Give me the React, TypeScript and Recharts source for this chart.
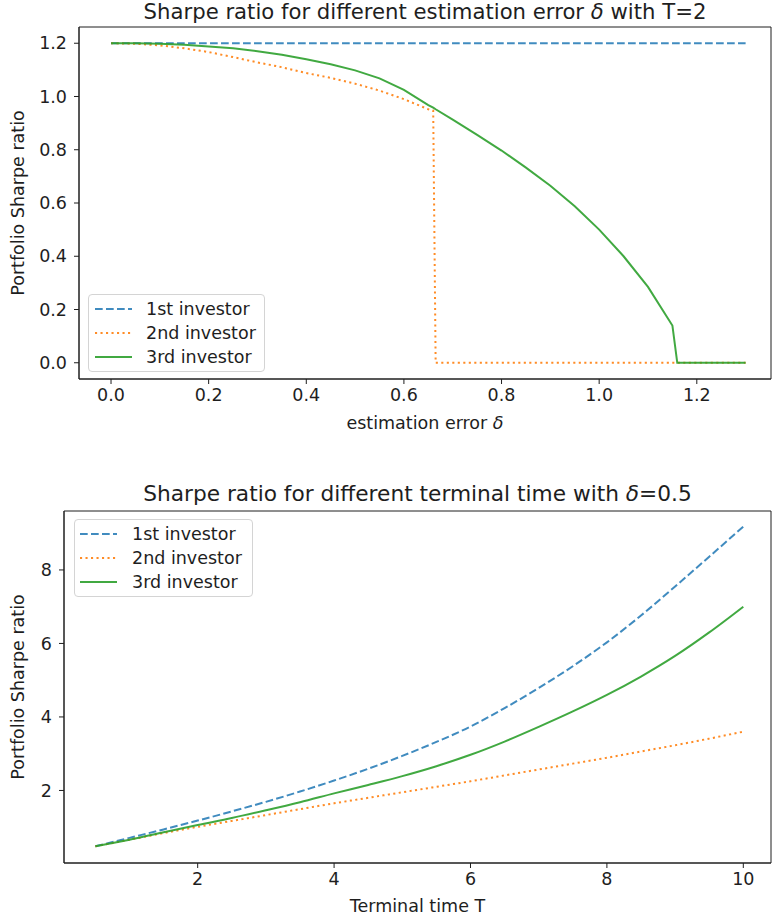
import React from 'react';
import { LineChart, Line, XAxis, YAxis, Legend, ReferenceArea } from 'recharts';

const FONT = '"DejaVu Sans", "Liberation Sans", sans-serif';
const INK = '#1e1e1e';
const FS = 17.5;

// ---------- Top chart data: Sharpe ratio vs estimation error (T=2) ----------
const deltaValues = [0, 0.05, 0.1, 0.15, 0.2, 0.25, 0.3, 0.35, 0.4, 0.45, 0.5, 0.55, 0.6, 0.65, 0.66, 0.665, 0.7, 0.75, 0.8, 0.85, 0.9, 0.95, 1.0, 1.05, 1.1, 1.15, 1.16, 1.2, 1.25, 1.3];
const deltaInvestor1 = [1.2, 1.2, 1.2, 1.2, 1.2, 1.2, 1.2, 1.2, 1.2, 1.2, 1.2, 1.2, 1.2, 1.2, 1.2, 1.2, 1.2, 1.2, 1.2, 1.2, 1.2, 1.2, 1.2, 1.2, 1.2, 1.2, 1.2, 1.2, 1.2, 1.2];
const deltaInvestor2 = [1.2, 1.198, 1.192, 1.181, 1.167, 1.148, 1.128, 1.11, 1.088, 1.07, 1.048, 1.022, 0.99, 0.952, 0.947, 0, 0, 0, 0, 0, 0, 0, 0, 0, 0, 0, 0, 0, 0, 0];
const deltaInvestor3 = [1.2, 1.2, 1.198, 1.194, 1.188, 1.181, 1.17, 1.157, 1.14, 1.121, 1.098, 1.068, 1.025, 0.968, 0.958, 0.952, 0.913, 0.856, 0.797, 0.733, 0.665, 0.588, 0.5, 0.4, 0.285, 0.14, 0, 0, 0, 0];
const deltaTicks = [0, 0.2, 0.4, 0.6, 0.8, 1.0, 1.2];
const deltaYTicks = [0, 0.2, 0.4, 0.6, 0.8, 1.0, 1.2];

// ---------- Bottom chart data: Sharpe ratio vs terminal time (delta=0.5) ----------
const timeValues = [0.5, 1, 1.5, 2, 2.5, 3, 3.5, 4, 4.5, 5, 5.5, 6, 6.5, 7, 7.5, 8, 8.5, 9, 9.5, 10];
const timeInvestor1 = [0.48, 0.71, 0.94, 1.18, 1.43, 1.69, 1.97, 2.27, 2.59, 2.94, 3.32, 3.74, 4.24, 4.79, 5.38, 6.03, 6.76, 7.55, 8.36, 9.18];
const timeInvestor2 = [0.48, 0.66, 0.84, 1.01, 1.17, 1.33, 1.49, 1.65, 1.8, 1.95, 2.1, 2.25, 2.41, 2.57, 2.73, 2.89, 3.06, 3.23, 3.41, 3.6];
const timeInvestor3 = [0.48, 0.66, 0.86, 1.06, 1.25, 1.46, 1.68, 1.92, 2.15, 2.39, 2.66, 2.97, 3.33, 3.73, 4.15, 4.6, 5.1, 5.66, 6.3, 7.0];
const timeTicks = [2, 4, 6, 8, 10];
const timeYTicks = [2, 4, 6, 8];

const seriesNames = ['1st investor', '2nd investor', '3rd investor'];

const SERIES = [
  { key: 'a', name: seriesNames[0], color: '#1f77b4', dash: '7.7 3.3', opacity: 0.85 },
  { key: 'b', name: seriesNames[1], color: '#ff7f0e', dash: '2.1 3.4', opacity: 0.9 },
  { key: 'c', name: seriesNames[2], color: '#2ca02c', dash: undefined as string | undefined, opacity: 0.9 },
];

const topData = deltaValues.map((x, i) => ({ x, a: deltaInvestor1[i], b: deltaInvestor2[i], c: deltaInvestor3[i] }));
const bottomData = timeValues.map((x, i) => ({ x, a: timeInvestor1[i], b: timeInvestor2[i], c: timeInvestor3[i] }));

const TICK_STYLE = { fill: INK, fontSize: FS, fontFamily: FONT };
const LABEL_STYLE = { fill: INK, fontSize: FS, fontFamily: FONT };

function makeLegend(w: number, h: number, handleLeft: number, textLeft: number, firstRow: number) {
  return () => (
    <div
      style={{
        position: 'relative',
        width: w,
        height: h,
        boxSizing: 'border-box',
        border: '1px solid #d4d4d4',
        borderRadius: 4,
        background: 'rgba(255,255,255,0.85)',
        fontFamily: FONT,
        fontSize: FS,
        color: INK,
      }}
    >
      {SERIES.map((s, i) => (
        <div key={s.key} style={{ position: 'absolute', left: 0, top: firstRow + i * 24 - 11, height: 22, width: w }}>
          <svg width={w} height={22} style={{ position: 'absolute', left: 0, top: 0 }}>
            <line
              x1={handleLeft}
              x2={handleLeft + 37}
              y1={11}
              y2={11}
              stroke={s.color}
              strokeWidth={2}
              strokeOpacity={s.opacity}
              strokeDasharray={s.dash}
            />
          </svg>
          <span style={{ position: 'absolute', left: textLeft, top: 0, lineHeight: '22px', whiteSpace: 'nowrap' }}>{s.name}</span>
        </div>
      ))}
    </div>
  );
}

function Title({ parts, left, width, top, size }: { parts: [string, string, string]; left: number; width: number; top: number; size: number }) {
  return (
    <div
      style={{
        position: 'absolute',
        left,
        top,
        width,
        textAlign: 'center',
        fontFamily: FONT,
        fontSize: size,
        lineHeight: '24px',
        color: INK,
        whiteSpace: 'nowrap',
      }}
    >
      {parts[0]}
      <i>{parts[1]}</i>
      {parts[2]}
    </div>
  );
}

function xLabel(before: string, italic: string, offset: number) {
  return (props: any) => {
    const vb = props.viewBox || {};
    return (
      <text
        x={vb.x + vb.width / 2}
        y={vb.y + vb.height - offset}
        textAnchor="middle"
        fill={INK}
        fontSize={FS}
        fontFamily={FONT}
      >
        {before}
        {italic ? <tspan fontStyle="italic">{italic}</tspan> : null}
      </text>
    );
  };
}

const TOP_X = [-0.0656, 1.352];
const TOP_Y = [-0.061, 1.261];
const BOT_X = [0.04, 10.406];
const BOT_Y = [0.026, 9.604];

export default function App() {
  return (
    <div style={{ position: 'absolute', left: 0, top: 0, width: 772, height: 922, overflow: 'hidden', background: '#fff' }}>
      <Title parts={['Sharpe ratio for different estimation error ', 'δ', ' with T=2']} left={79} width={692} top={0} size={21.2} />
      <div style={{ position: 'absolute', left: 0, top: 0 }}>
        <LineChart width={772} height={440} data={topData} margin={{ top: 27, right: 1, bottom: 5, left: 0 }}>
          <XAxis
            type="number"
            dataKey="x"
            domain={TOP_X}
            allowDataOverflow
            ticks={deltaTicks}
            interval={0}
            tickFormatter={(v: number) => v.toFixed(1)}
            stroke={INK}
            tick={TICK_STYLE}
            tickSize={5}
            tickMargin={5}
            height={56}
            label={{ position: 'insideBottom', content: xLabel('estimation error ', 'δ', 6.5) }}
          />
          <YAxis
            type="number"
            domain={TOP_Y}
            allowDataOverflow
            ticks={deltaYTicks}
            interval={0}
            tickFormatter={(v: number) => v.toFixed(1)}
            stroke={INK}
            tick={TICK_STYLE}
            tickSize={5}
            tickMargin={7}
            width={79}
            label={{ value: 'Portfolio Sharpe ratio', angle: -90, position: 'insideLeft', offset: 18, style: { ...LABEL_STYLE, textAnchor: 'middle' } }}
          />
          <ReferenceArea x1={TOP_X[0]} x2={TOP_X[1]} y1={TOP_Y[0]} y2={TOP_Y[1]} fill="none" stroke={INK} strokeWidth={1} ifOverflow="visible" />
          {SERIES.map((s) => (
            <Line
              key={s.key}
              type="linear"
              dataKey={s.key}
              name={s.name}
              stroke={s.color}
              strokeOpacity={s.opacity}
              strokeWidth={2}
              strokeDasharray={s.dash}
              dot={false}
              activeDot={false}
              isAnimationActive={false}
            />
          ))}
          <Legend
            layout="vertical"
            align="center"
            verticalAlign="middle"
            wrapperStyle={{ position: 'absolute', left: 88, top: 294, width: 177, height: 78 }}
            content={makeLegend(177, 78, 6, 57, 14)}
          />
        </LineChart>
      </div>

      <Title parts={['Sharpe ratio for different terminal time with ', 'δ', '=0.5']} left={64} width={707} top={482} size={21.7} />
      <div style={{ position: 'absolute', left: 0, top: 470 }}>
        <LineChart width={772} height={452} data={bottomData} margin={{ top: 41, right: 1, bottom: 3, left: 0 }}>
          <XAxis
            type="number"
            dataKey="x"
            domain={BOT_X}
            allowDataOverflow
            ticks={timeTicks}
            interval={0}
            stroke={INK}
            tick={TICK_STYLE}
            tickSize={5}
            tickMargin={5}
            height={56}
            label={{ position: 'insideBottom', content: xLabel('Terminal time T', '', 7.5) }}
          />
          <YAxis
            type="number"
            domain={BOT_Y}
            allowDataOverflow
            ticks={timeYTicks}
            interval={0}
            stroke={INK}
            tick={TICK_STYLE}
            tickSize={5}
            tickMargin={7}
            width={64}
            label={{ value: 'Portfolio Sharpe ratio', angle: -90, position: 'insideLeft', offset: 18, style: { ...LABEL_STYLE, textAnchor: 'middle' } }}
          />
          <ReferenceArea x1={BOT_X[0]} x2={BOT_X[1]} y1={BOT_Y[0]} y2={BOT_Y[1]} fill="none" stroke={INK} strokeWidth={1} ifOverflow="visible" />
          {SERIES.map((s) => (
            <Line
              key={s.key}
              type="monotone"
              dataKey={s.key}
              name={s.name}
              stroke={s.color}
              strokeOpacity={s.opacity}
              strokeWidth={2}
              strokeDasharray={s.dash}
              dot={false}
              activeDot={false}
              isAnimationActive={false}
            />
          ))}
          <Legend
            layout="vertical"
            align="center"
            verticalAlign="middle"
            wrapperStyle={{ position: 'absolute', left: 74, top: 49, width: 179, height: 78 }}
            content={makeLegend(179, 78, 5, 57, 14)}
          />
        </LineChart>
      </div>
    </div>
  );
}
